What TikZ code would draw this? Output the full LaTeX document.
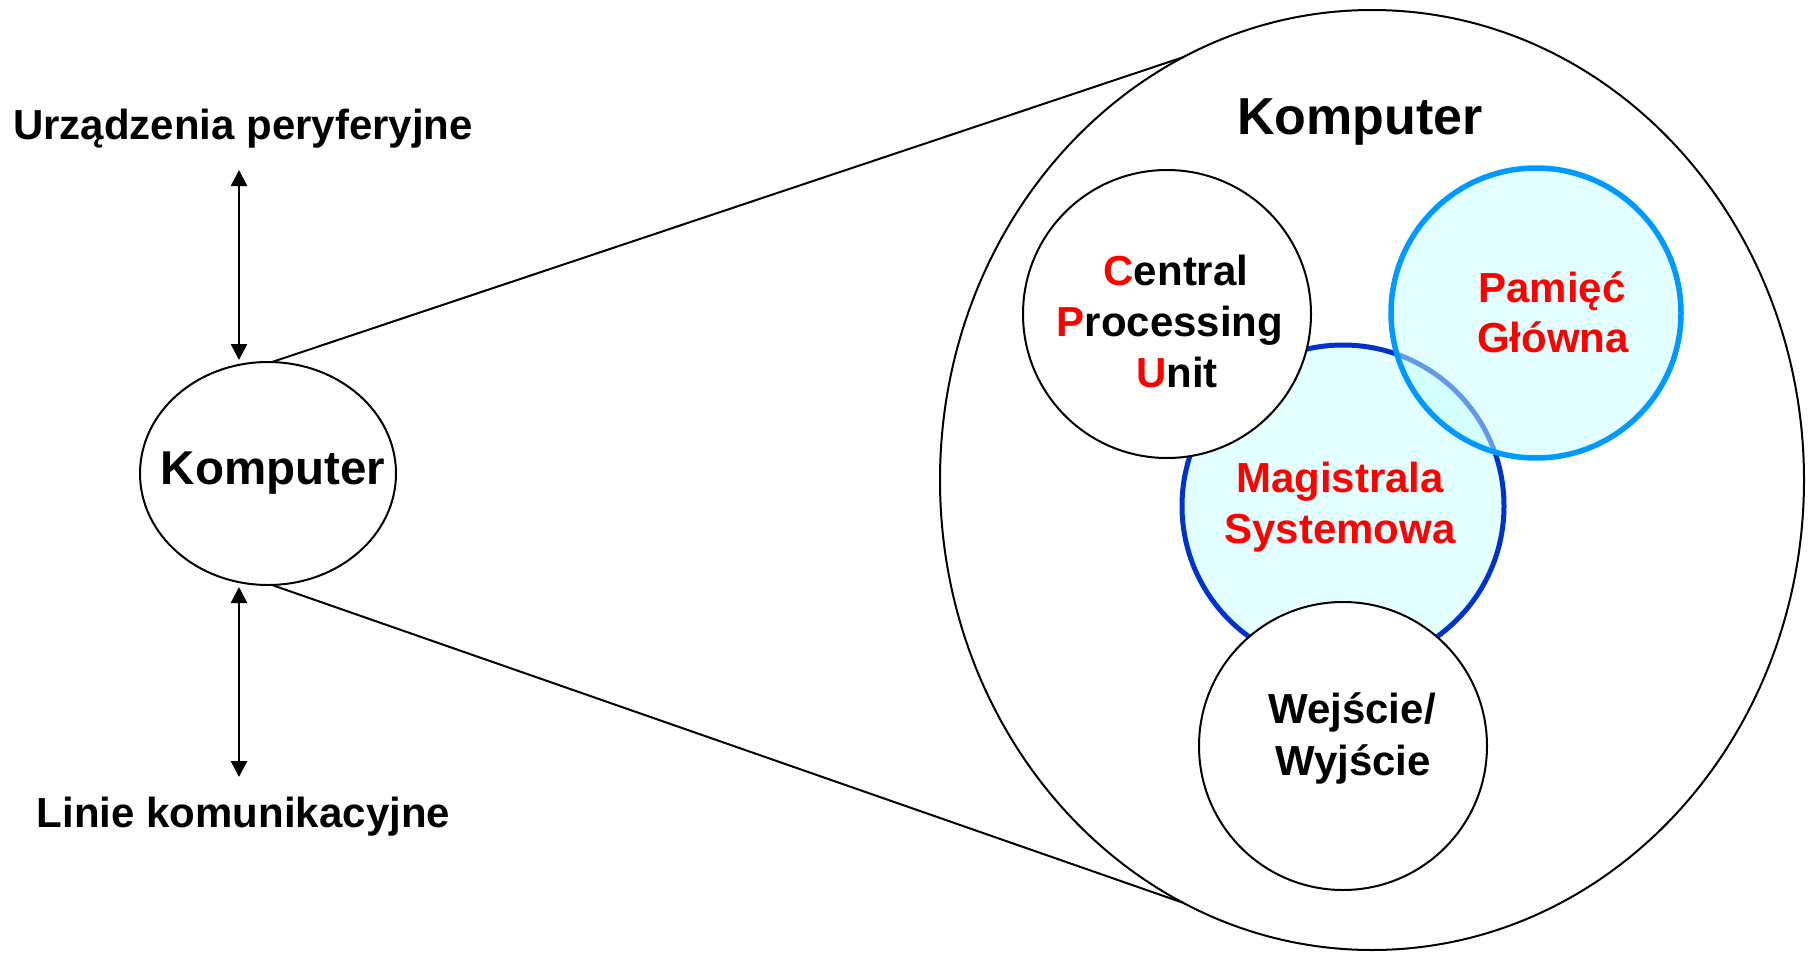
\documentclass[tikz,border=0pt]{standalone}
\usepackage{fontspec}
\setmainfont{Liberation Sans}
\usetikzlibrary{shapes.geometric,arrows.meta}

\definecolor{busblue}{HTML}{0033CC}
\definecolor{memblue}{HTML}{0099FF}
\definecolor{palecyan}{HTML}{E3FFFF}
\definecolor{memfill}{RGB}{199,255,255}
\definecolor{keyred}{HTML}{FF0000}

\tikzset{
  outline/.style={draw=black, line width=2pt, inner sep=0pt, outer sep=0pt},
  unitcircle/.style={circle, outline, fill=white, minimum size=288pt},
  lbl/.style={font=\bfseries\fontsize{42}{50}\selectfont, inner sep=0pt, anchor=base},
  redlbl/.style={lbl, text=keyred},
  conn/.style={line width=2pt},
  dblarrow/.style={line width=2.5pt,
    {Triangle[width=16pt,length=16pt]}-{Triangle[width=16pt,length=16pt]}},
}

\begin{document}
\begin{tikzpicture}[x=1pt, y=-1pt]
  \useasboundingbox (0,0) rectangle (1813,953);

  % the computer seen from outside
  \node[ellipse, outline, minimum width=256pt, minimum height=223pt] (small) at (268,473.5) {};
  \node[lbl, font=\bfseries\fontsize{47.5}{56}\selectfont] (smalltitle) at (273,484) {Komputer};

  % its neighbours
  \node[lbl] (periph) at (243,139) {Urządzenia peryferyjne};
  \node[lbl] (comm) at (243.5,827) {Linie komunikacyjne};
  \coordinate (up1) at (239,170);
  \coordinate (up2) at (239,360);
  \coordinate (dn1) at (239,587);
  \coordinate (dn2) at (239,777);
  \draw[dblarrow] (up1) -- (up2);
  \draw[dblarrow] (dn1) -- (dn2);

  % the computer seen from inside
  \node[ellipse, outline, minimum width=864pt, minimum height=940pt] (big) at (1372,480) {};
  \draw[conn] (small.88) -- (big.114);
  \draw[conn] (small.272) -- (big.246);
  \node[lbl, font=\bfseries\fontsize{52}{60}\selectfont] (bigtitle) at (1360,134) {Komputer};

  % components
  \node[circle, draw=busblue, line width=5pt, fill=palecyan, minimum size=322pt,
        inner sep=0pt, outer sep=0pt] (bus) at (1343,506) {};
  \node[unitcircle] (cpu) at (1167,314) {};
  \node[unitcircle] (io) at (1343,746) {};
  \node[circle, draw=memblue, line width=5.5pt, fill=memfill, fill opacity=0.5,
        draw opacity=1, minimum size=290pt, inner sep=0pt, outer sep=0pt] (mem) at (1536,313) {};

  % component labels
  \node[lbl] (cpu1) at (1176,285) {{\color{keyred}C}entral};
  \node[lbl] (cpu2) at (1170,336) {{\color{keyred}P}rocessing};
  \node[lbl] (cpu3) at (1177,387) {{\color{keyred}U}nit};
  \node[redlbl] (mem1) at (1552,302) {Pamięć};
  \node[redlbl] (mem2) at (1553,352) {Główna};
  \node[redlbl] (bus1) at (1340,492) {Magistrala};
  \node[redlbl] (bus2) at (1340,543) {Systemowa};
  \node[lbl] (io1) at (1352,723) {Wejście/};
  \node[lbl] (io2) at (1353,775) {Wyjście};
\end{tikzpicture}
\end{document}
